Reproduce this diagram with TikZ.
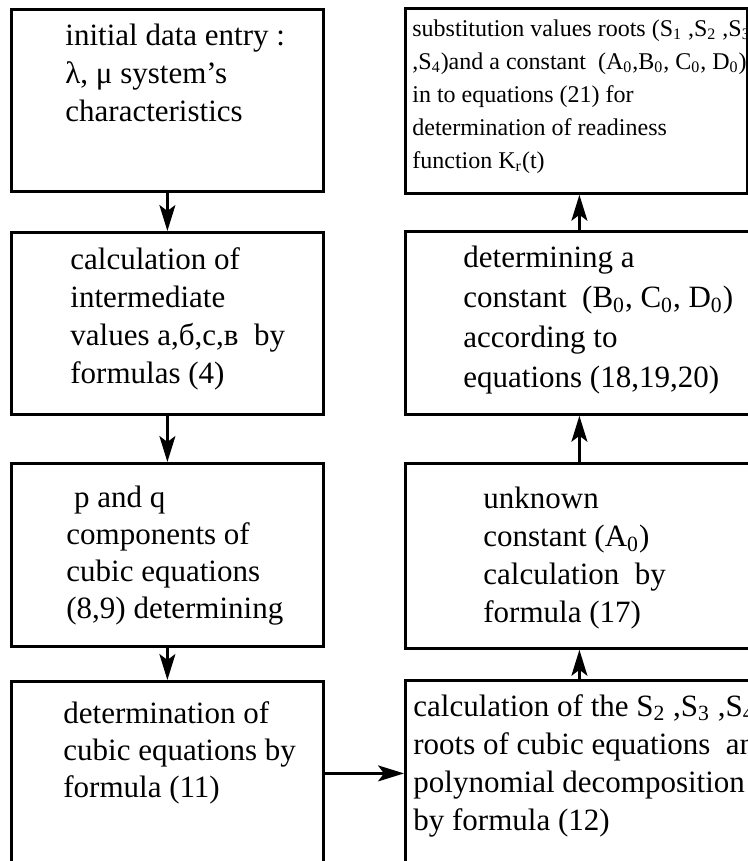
\documentclass[tikz,border=0pt]{standalone}
\usepackage{fontspec}
\setmainfont{Liberation Serif}
\usetikzlibrary{arrows.meta}

\tikzset{
  block/.style 2 args={draw, line width=1.4pt, inner sep=0pt, anchor=north west,
    minimum width=#1, minimum height=#2},
  txt/.style={anchor=north west, inner sep=0pt, align=left,
    font=\fontsize{15.5}{19}\selectfont},
  smalltxt/.style={txt, font=\fontsize{12}{16.5}\selectfont},
  arr/.style={-{Stealth[length=13pt,width=8pt,inset=3pt]}, line width=1.1pt}
}

\begin{document}
\begin{tikzpicture}[x=0.5pt,y=-0.5pt]
    \clip (0,0) rectangle (748,861);
    %
    \node[block={156pt}{91pt}]   (l1) at (10,8) {};
    \node[block={156pt}{91pt}]   (l2) at (10,231) {};
    \node[block={156pt}{91.5pt}] (l3) at (10,462) {};
    \node[block={156pt}{92pt}]   (l4) at (10,680) {};
    %
    \node[block={171pt}{92.5pt}] (r1) at (404,7) {};
    \node[block={174pt}{91.5pt}] (r2) at (404,230) {};
    \node[block={174pt}{92.5pt}] (r3) at (404,462) {};
    \node[block={174pt}{93pt}]   (r4) at (404,679) {};
    %
    \node[txt] (l1t) at (65,24) {initial data entry :\\
      λ, μ system’s\\ characteristics};
    \node[txt] (l2t) at (70,247) {calculation of\\ intermediate\\
      values а,б,с,в\ \ by\\ formulas (4)};
    \node[txt,font=\fontsize{15.5}{18.5}\selectfont] (l3t) at (66,486)
      {\hspace*{0.25em}p and q\\ components of\\ cubic equations\\
      (8,9) determining};
    \node[txt,font=\fontsize{15.5}{18.5}\selectfont] (l4t) at (63,701)
      {determination of\\ cubic equations by\\ formula (11)};
    %
    \node[smalltxt] (r1t) at (412,19) {substitution values roots
      (S\textsubscript{1} ,S\textsubscript{2} ,S\textsubscript{3}\\
      ,S\textsubscript{4})and a constant\ \ (A\textsubscript{0},B\textsubscript{0},
      C\textsubscript{0}, D\textsubscript{0})\\
      in to equations (21) for\\ determination of readiness\\
      function K\textsubscript{r}(t)};
    \node[txt,font=\fontsize{15.5}{20}\selectfont] (r2t) at (463,246)
      {determining a\\ constant\ \ (B\textsubscript{0}, C\textsubscript{0},
      D\textsubscript{0})\\ according to\\ equations (18,19,20)};
    \node[txt] (r3t) at (483,487) {unknown\\ constant (A\textsubscript{0})\\
      calculation\ \ by\\ formula (17)};
    \node[txt] (r4t) at (413,694) {calculation of the S\textsubscript{2}
      ,S\textsubscript{3} ,S\textsubscript{4}\\ roots of cubic equations\ \ and\\
      polynomial decomposition\\ by formula (12)};
    %
    \draw[arr] (l1) -- (l2);
    \draw[arr] (l2) -- (l3);
    \draw[arr] (l3) -- (l4);
    \draw[arr] (l4) -- (r4);
    \draw[arr] (r4) -- (r3);
    \draw[arr] (r3) -- (r2);
    \draw[arr] (r2.north) -- (r2.north |- r1.south);
\end{tikzpicture}
\end{document}
